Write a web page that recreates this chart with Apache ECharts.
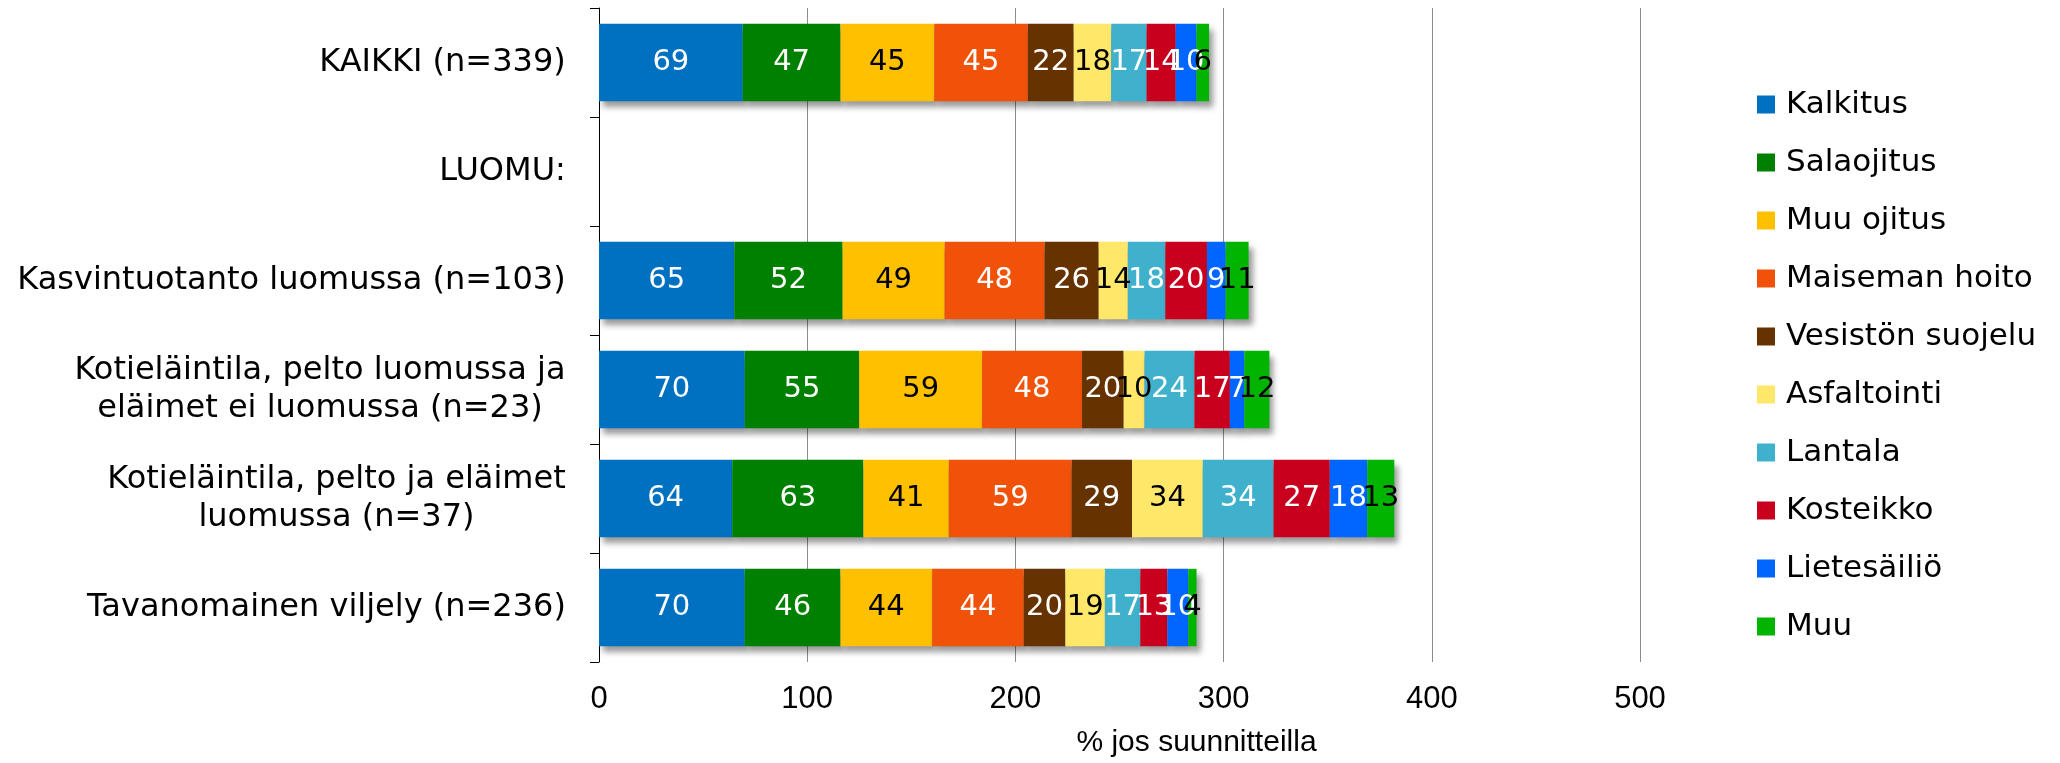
<!DOCTYPE html>
<html>
<head>
<meta charset="utf-8">
<script src="https://cdn.jsdelivr.net/npm/echarts@6/dist/echarts.min.js"></script>
<style>
html,body{margin:0;padding:0;background:#fff;}
#chart{width:2060px;height:763px;}
</style>
</head>
<body>
<div id="chart"></div>
<script>
// Categories (top to bottom)
const categories = [
  'KAIKKI (n=339)',
  'LUOMU:',
  'Kasvintuotanto luomussa (n=103)',
  'Kotieläintila, pelto luomussa ja\neläimet ei luomussa (n=23)',
  'Kotieläintila, pelto ja eläimet\nluomussa (n=37)',
  'Tavanomainen viljely (n=236)'
];
const seriesNames = ['Kalkitus','Salaojitus','Muu ojitus','Maiseman hoito','Vesistön suojelu','Asfaltointi','Lantala','Kosteikko','Lietesäiliö','Muu'];
// Values per series, one per category (null = no bar)
const kalkitus      = [69, null, 65, 70, 64, 70];
const salaojitus    = [47, null, 52, 55, 63, 46];
const muuOjitus     = [45, null, 49, 59, 41, 44];
const maisemanHoito = [45, null, 48, 48, 59, 44];
const vesistonSuojelu = [22, null, 26, 20, 29, 20];
const asfaltointi   = [18, null, 14, 10, 34, 19];
const lantala       = [17, null, 18, 24, 34, 17];
const kosteikko     = [14, null, 20, 17, 27, 13];
const lietesailio   = [10, null, 9, 7, 18, 10];
const muu           = [6, null, 11, 12, 13, 4];
const xTicks = [0, 100, 200, 300, 400, 500];

const seriesValues = [kalkitus, salaojitus, muuOjitus, maisemanHoito, vesistonSuojelu, asfaltointi, lantala, kosteikko, lietesailio, muu];
const colors = ['#0070C0','#008000','#FFC000','#F0520A','#663300','#FFE869','#40B1CC','#C8001E','#0066FF','#00B400'];
const labelColors = ['#fff','#fff','#000','#fff','#fff','#000','#fff','#fff','#fff','#000'];

const catFont = '32px "DejaVu Sans"';
const cv = document.createElement('canvas').getContext('2d');
cv.font = catFont;
const rich = {};
categories.forEach((c, i) => {
  const w = Math.max(...c.split('\n').map(l => cv.measureText(l).width));
  rich['c' + i] = {width: Math.ceil(w) + 2, align: 'center', fontSize: 32, fontFamily: 'DejaVu Sans', color: '#000', lineHeight: 38};
});

const chart = echarts.init(document.getElementById('chart'), null, {renderer: 'canvas'});
chart.setOption({
  animation: false,
  backgroundColor: '#fff',
  grid: {left: 599, top: 8, right: 420, bottom: 96, containLabel: false},
  legend: {
    orient: 'vertical',
    left: 1757,
    top: 89,
    padding: 0,
    itemWidth: 18,
    itemHeight: 18,
    itemGap: 27,
    icon: 'rect',
    textStyle: {fontFamily: 'DejaVu Sans', fontSize: 31, color: '#000', padding: [0, 0, 0, 6]},
    data: seriesNames
  },
  xAxis: {
    type: 'value',
    min: xTicks[0],
    max: xTicks[xTicks.length - 1],
    interval: xTicks[1] - xTicks[0],
    axisLine: {show: false},
    axisTick: {show: false},
    splitLine: {show: true, lineStyle: {color: '#8C8C8C', width: 1}},
    axisLabel: {fontFamily: 'Liberation Sans', fontSize: 31, color: '#000', margin: 22},
    name: '% jos suunnitteilla',
    nameLocation: 'middle',
    nameGap: 66,
    nameTextStyle: {fontFamily: 'Liberation Sans', fontSize: 30, color: '#000', padding: [0, 0, 0, 154]}
  },
  yAxis: {
    type: 'category',
    inverse: true,
    data: categories,
    axisLine: {show: true, lineStyle: {color: '#000', width: 1}},
    axisTick: {show: true, length: 9, lineStyle: {color: '#000'}},
    splitLine: {show: false},
    axisLabel: {
      margin: 32,
      formatter: (v, i) => v.split('\n').map(l => '{c' + i + '|' + l + '}').join('\n'),
      rich: rich
    }
  },
  series: seriesNames.map((n, k) => ({
    name: n,
    type: 'bar',
    stack: 'total',
    barWidth: '71%',
    data: seriesValues[k],
    itemStyle: {
      color: colors[k],
      shadowColor: 'rgba(0,0,0,0.4)',
      shadowBlur: 6,
      shadowOffsetX: 4,
      shadowOffsetY: 6
    },
    label: {
      show: true,
      position: 'inside',
      fontFamily: 'DejaVu Sans',
      fontSize: 29,
      color: labelColors[k],
      textBorderWidth: 0
    }
  }))
});
</script>
</body>
</html>
